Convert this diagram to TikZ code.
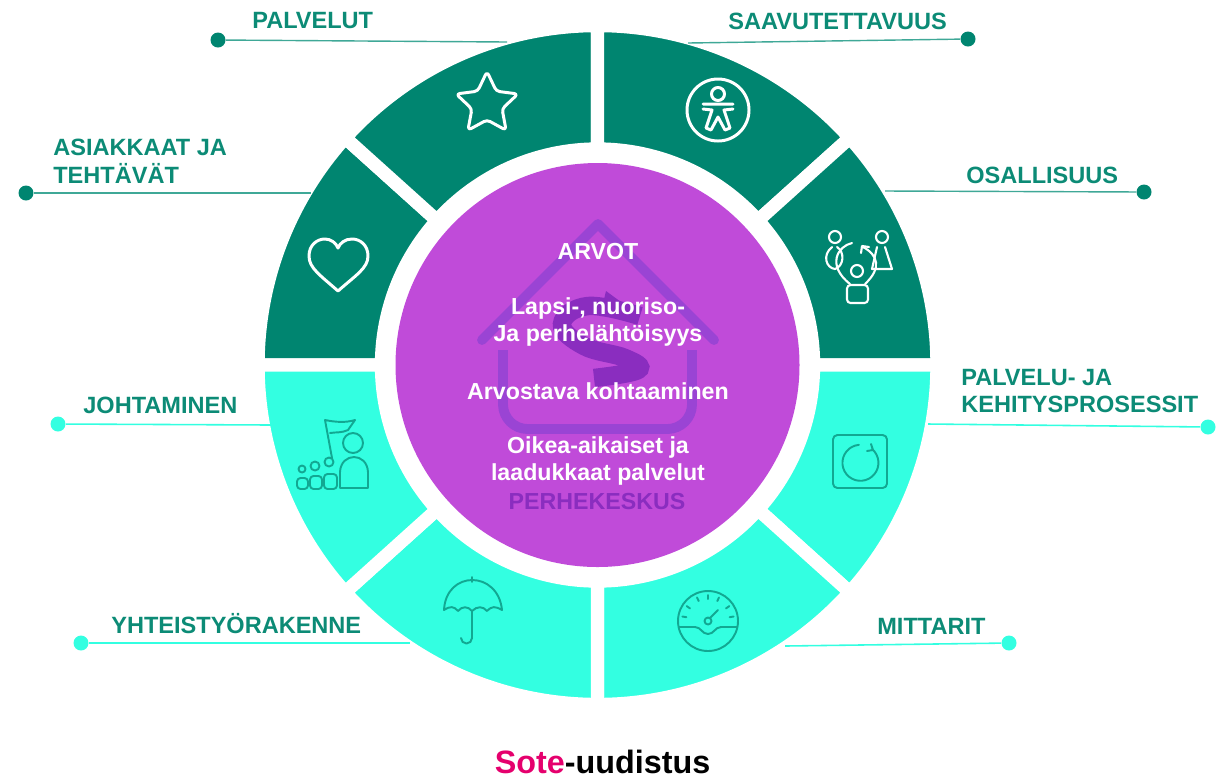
\documentclass[tikz,border=0pt]{standalone}
\usepackage{xcolor}
\usepackage{fontspec}
\setmainfont{Liberation Sans}
\usepackage{tikz}
\usetikzlibrary{shapes.geometric, positioning}
\definecolor{tumma}{HTML}{008570}
\definecolor{turkoosi}{HTML}{33FFE1}
\definecolor{violetti}{HTML}{C04BD9}
\definecolor{talo}{HTML}{9A44D4}
\definecolor{taloS}{HTML}{8A2DBF}
\definecolor{teksti}{HTML}{0C8B76}
\definecolor{viiva}{HTML}{3FA897}
\definecolor{ikoni}{HTML}{12A892}
\definecolor{pinkki}{HTML}{E5006D}
\tikzset{
  otsikko/.style={text=teksti,anchor=west,font=\fontsize{13.4}{15.8}\selectfont\bfseries,align=left,inner sep=0pt},
  keski/.style={text=white,font=\fontsize{13.2}{15.4}\selectfont\bfseries,align=center,inner sep=0pt},
  valkoikoni/.style={draw=white,line width=1.7pt,line join=round,line cap=round},
  vihreaikoni/.style={draw=ikoni,line width=1.1pt,line join=round,line cap=round},
}

\begin{document}
\begin{tikzpicture}[x=0.02cm,y=-0.02cm]
        \useasboundingbox (0,0) rectangle (1216,779);
        % rengas
        \begin{scope}[shift={(597.5,365)}]
          \foreach \a/\b/\c in {180/222/tumma,222/270/tumma,270/318/tumma,318/360/tumma,
                                0/42/turkoosi,42/90/turkoosi,90/138/turkoosi,138/180/turkoosi}
            \filldraw[fill=\c,draw=white,line width=7.6pt,line join=miter]
              (\a:339.5) arc[start angle=\a,end angle=\b,radius=339.5]
              -- (\b:216) arc[start angle=\b,end angle=\a,radius=216] -- cycle;
          \fill[violetti] (0,0) circle (202);
        \end{scope}
        % talo
        \draw[talo,line width=5.6pt,line cap=round,line join=round] (482,340) -- (598,224) -- (714,340);
        \draw[talo,line width=5.6pt,rounded corners=14pt] (503,350) -- (503,429) -- (692,429) -- (692,350);
        \fill[taloS] (606,291) -- (640,316) -- (600,316) -- cycle;
        \draw[taloS,line width=10.5pt] plot[smooth,tension=0.7] coordinates
          {(640,316) (588,306) (562,324) (584,346) (625,358) (638,370) (594,378)};
        % keskiosan tekstit
        \node[keski] (arvot) at (598,252) {ARVOT};
        \node[keski] (lapsi) at (598,322) {Lapsi-, nuoriso-\\Ja perhelähtöisyys};
        \node[keski] (kohtaaminen) at (598,391) {Arvostava kohtaaminen};
        \node[keski] (oikea) at (598,461) {Oikea-aikaiset ja\\laadukkaat palvelut};
        \node[keski,text=taloS] (perhekeskus) at (597,501) {PERHEKESKUS};
        % pisteet
        \begin{scope}[every node/.style={circle,inner sep=0pt,minimum size=0.3cm}]
          \node[fill=tumma] (dpalvelut) at (218,40) {};
          \node[fill=tumma] (dsaavutettavuus) at (968,39) {};
          \node[fill=tumma] (dosallisuus) at (1144,192) {};
          \node[fill=tumma] (dasiakkaat) at (26,193) {};
          \node[fill=turkoosi] (dprosessit) at (1208,427) {};
          \node[fill=turkoosi] (dmittarit) at (1009,643) {};
          \node[fill=turkoosi] (dyhteistyo) at (81,643) {};
          \node[fill=turkoosi] (djohtaminen) at (58,424) {};
        \end{scope}
        \coordinate (epalvelut) at (507,42);
        \coordinate (esaavutettavuus) at (688,43);
        \coordinate (eosallisuus) at (885,191);
        \coordinate (easiakkaat) at (311,193);
        \coordinate (eprosessit) at (928,424);
        \coordinate (emittarit) at (785,646);
        \coordinate (eyhteistyo) at (410,643);
        \coordinate (ejohtaminen) at (272,425);
        \begin{scope}[every edge/.style={draw=viiva,line width=0.8pt}]
          \path (dpalvelut) edge (epalvelut);
          \path (dsaavutettavuus) edge (esaavutettavuus);
          \path (dosallisuus) edge (eosallisuus);
          \path (dasiakkaat) edge (easiakkaat);
        \end{scope}
        \begin{scope}[every edge/.style={draw=turkoosi,line width=0.9pt}]
          \path (dprosessit) edge (eprosessit);
          \path (dmittarit) edge (emittarit);
          \path (dyhteistyo) edge (eyhteistyo);
          \path (djohtaminen) edge (ejohtaminen);
        \end{scope}
        % otsikot
        \node[otsikko] (palvelut) at (252,21) {PALVELUT};
        \node[otsikko] (saavutettavuus) at (728,21) {SAAVUTETTAVUUS};
        \node[otsikko] (osallisuus) at (966,175) {OSALLISUUS};
        \node[otsikko] (asiakkaat) at (53,161) {ASIAKKAAT JA\\TEHTÄVÄT};
        \node[otsikko] (prosessit) at (961,391) {PALVELU- JA\\KEHITYSPROSESSIT};
        \node[otsikko] (mittarit) at (877,626) {MITTARIT};
        \node[otsikko] (yhteistyo) at (111,624) {YHTEISTYÖRAKENNE};
        \node[otsikko] (johtaminen) at (83,405) {JOHTAMINEN};
        % tahti
        \node[star,star points=5,star point ratio=2.05,minimum size=1.3cm,inner sep=0pt,
              rounded corners=2pt,valkoikoni] (tahti) at (487,104) {};
        % saavutettavuus
        \draw[valkoikoni] (718,110) circle (31) (718,94) circle (6.5);
        \draw[valkoikoni] (703,104) -- (733,104) (703,109) -- (712,110) -- (706,128) -- (711,130) -- (718,117)
          -- (725,130) -- (730,128) -- (724,110) -- (733,109);
        % sydan
        \draw[valkoikoni] (338,291) .. controls (320,275) and (309,268) .. (309,256)
          .. controls (309,245) and (317,239) .. (325,239) .. controls (331,239) and (336,243) .. (338,248)
          .. controls (340,243) and (345,239) .. (352,239) .. controls (360,239) and (368,245) .. (368,256)
          .. controls (368,268) and (356,275) .. (338,291) -- cycle;
        % osallisuus
        \draw[valkoikoni,line width=1.2pt] (835,237) circle (6) (882,237) circle (6) (857,271) circle (6);
        \draw[valkoikoni,line width=1.2pt,rounded corners=2pt] (847,285) -- (868,285) -- (868,303) -- (847,303) -- cycle;
        \draw[valkoikoni,line width=1.2pt] (852,243) .. controls (838,246) and (826,265) .. (850,284);
        \draw[valkoikoni,line width=1.2pt] (863,247) .. controls (878,255) and (882,268) .. (865,284);
        \draw[valkoikoni,line width=1.2pt] (861,253) -- (862,246) -- (869,247);
        \draw[valkoikoni,line width=1.2pt] (832,247) .. controls (822,255) and (826,268) .. (835,269)
          .. controls (844,266) and (845,252) .. (837,247);
        \draw[valkoikoni,line width=1.2pt] (877,247) -- (872,269) -- (892,269) -- (885,247);
        % johtaminen
        \draw[vihreaikoni] (332,458) -- (325,420) .. controls (335,422) and (345,423) .. (355,420) -- (348,430)
          .. controls (342,433) and (336,432) .. (330,433);
        \draw[vihreaikoni] (353,443) circle (10) (302,469) circle (3.5) (315,466) circle (4.5) (329,462) circle (4.5);
        \draw[vihreaikoni] (340,488) -- (340,472) .. controls (341,452) and (367,452) .. (368,472) -- (368,488) -- cycle;
        \draw[vihreaikoni,rounded corners=2pt] (297,478) rectangle (308,489);
        \draw[vihreaikoni,rounded corners=2pt] (310,476) rectangle (322,489);
        \draw[vihreaikoni,rounded corners=2pt] (324,474) rectangle (337,489);
        % sateenvarjo
        \draw[vihreaikoni] (472,577) -- (472,582) (444,610) .. controls (446,570) and (498,570) .. (502,610)
          .. controls (495,606) and (492,606) .. (487,611) .. controls (483,606) and (477,606) .. (472,611)
          .. controls (468,606) and (462,606) .. (458,611) .. controls (454,606) and (450,606) .. (444,610);
        \draw[vihreaikoni] (472,611) -- (472,638) arc[start angle=0,end angle=180,radius=5.5];
        % mittari
        \draw[vihreaikoni] (708,621) circle (30) (708,621) circle (3.5) (710,618) -- (718,610);
        \draw[vihreaikoni] (679,627) -- (695,627) .. controls (701,627) and (702,634) .. (708,634)
          .. controls (714,634) and (715,627) .. (721,627) -- (737,627);
        \foreach \k in {190,215,245,270,295,325,350}
          \draw[vihreaikoni] ([shift={(\k:22)}]708,621) -- ([shift={(\k:26)}]708,621);
        % prosessit
        \draw[vihreaikoni,rounded corners=2.5pt] (833,435) rectangle (887,488);
        \draw[vihreaikoni] (872,449) arc[start angle=-50,end angle=265,radius=18];
        \draw[vihreaikoni] (871,444) -- (873,450) -- (867,451);
        % logo
        \node[inner sep=0pt,font=\fontsize{18.4}{22}\selectfont\bfseries] (logo) at (602.5,762)
          {\textcolor{pinkki}{Sote}-uudistus};
      \end{tikzpicture}
\end{document}
